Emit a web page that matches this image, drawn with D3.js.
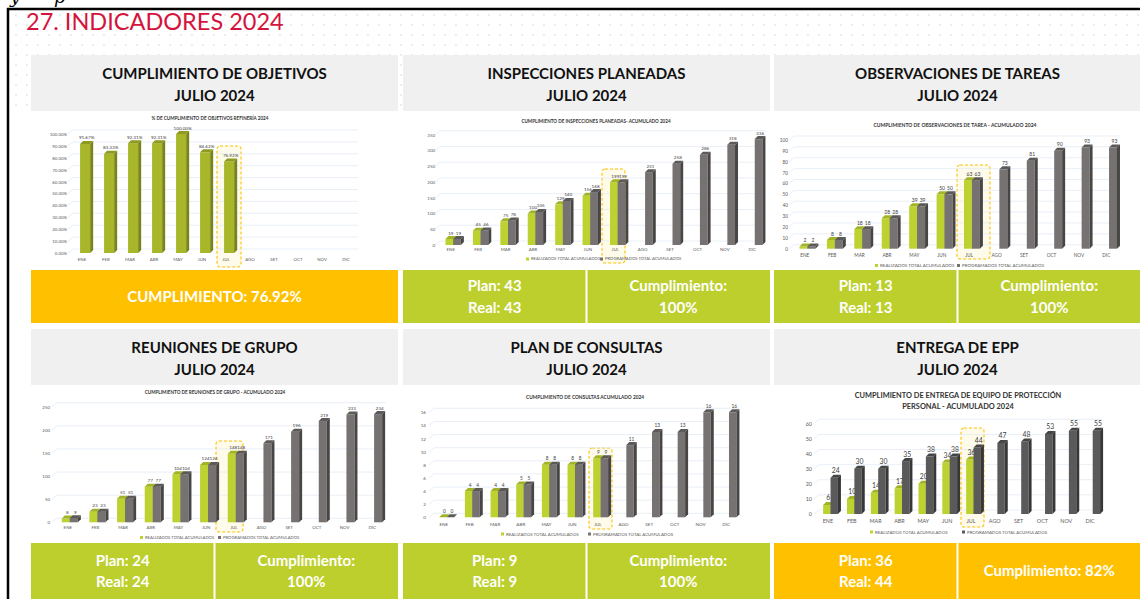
<!DOCTYPE html>
<html>
<head>
<meta charset="utf-8">
<script src="https://cdn.jsdelivr.net/npm/d3@7"></script>
<style>
  body { margin: 0; background: #fff; }
  svg { display: block; font-family: Lato, "Open Sans", sans-serif; }
</style>
</head>
<body>
<svg id="chart" width="1140" height="599"></svg>
<script>
var meses = ["ENE", "FEB", "MAR", "ABR", "MAY", "JUN", "JUL", "AGO", "SET", "OCT", "NOV", "DIC"];

var objetivosPct = [91.67, 83.33, 92.31, 92.31, 100.00, 84.62, 76.92];

var inspReal = [19, 45, 75, 100, 129, 156, 199];
var inspProg = [19, 46, 78, 105, 140, 168, 199, 231, 258, 286, 318, 336];

var obsReal = [2, 8, 18, 28, 39, 50, 63];
var obsProg = [2, 8, 18, 28, 39, 50, 63, 73, 81, 90, 93, 93];

var reuReal = [8, 23, 51, 77, 104, 124, 148];
var reuProg = [9, 23, 51, 77, 104, 124, 148, 171, 196, 219, 233, 234];

var consReal = [0, 4, 4, 5, 8, 8, 9];
var consProg = [0, 4, 4, 5, 8, 8, 9, 11, 13, 13, 16, 16];

var eppReal = [6, 10, 14, 17, 20, 34, 36];
var eppProg = [24, 30, 30, 35, 38, 38, 44, 47, 48, 53, 55, 55];

var titulos = [
  ["CUMPLIMIENTO DE OBJETIVOS", "JULIO 2024"],
  ["INSPECCIONES PLANEADAS", "JULIO 2024"],
  ["OBSERVACIONES DE TAREAS", "JULIO 2024"],
  ["REUNIONES DE GRUPO", "JULIO 2024"],
  ["PLAN DE CONSULTAS", "JULIO 2024"],
  ["ENTREGA DE EPP", "JULIO 2024"]
];
var subtitulos = [
  ["% DE CUMPLIMIENTO DE OBJETIVOS REFINERÍA 2024"],
  ["CUMPLIMIENTO DE INSPECCIONES PLANEADAS- ACUMULADO 2024"],
  ["CUMPLIMIENTO DE OBSERVACIONES DE TAREA - ACUMULADO 2024"],
  ["CUMPLIMIENTO DE REUNIONES DE GRUPO - ACUMULADO 2024"],
  ["CUMPLIMIENTO DE CONSULTAS ACUMULADO 2024"],
  ["CUMPLIMIENTO DE ENTREGA DE EQUIPO DE PROTECCIÓN", "PERSONAL - ACUMULADO 2024"]
];
var pieIzq = [["CUMPLIMIENTO: 76.92%"], ["Plan: 43", "Real: 43"], ["Plan: 13", "Real: 13"],
              ["Plan: 24", "Real: 24"], ["Plan: 9", "Real: 9"], ["Plan: 36", "Real: 44"]];
var pieDer = [null, ["Cumplimiento:", "100%"], ["Cumplimiento:", "100%"],
              ["Cumplimiento:", "100%"], ["Cumplimiento:", "100%"], ["Cumplimiento: 82%"]];
var pieEstado = ["amarillo", "verde", "verde", "verde", "verde", "amarillo"];
var leyenda = ["REALIZADOS TOTAL ACUMULADOS", "PROGRAMADOS TOTAL ACUMULADOS"];

var colores = { verde: "#bccf2d", amarillo: "#ffc000" };

var svg = d3.select("#chart");

// fondo punteado
var defs = svg.append("defs");
defs.append("pattern").attr("id", "puntos").attr("width", 11).attr("height", 10)
  .attr("patternUnits", "userSpaceOnUse")
  .append("circle").attr("cx", 5).attr("cy", 5).attr("r", 0.9).attr("fill", "#e4e4e4");
svg.append("rect").attr("x", 10).attr("y", 10).attr("width", 1130).attr("height", 100).attr("fill", "url(#puntos)");

// marco
svg.append("line").attr("x1", 7).attr("x2", 1140).attr("y1", 9).attr("y2", 9).attr("stroke", "#000").attr("stroke-width", 2.5);
svg.append("line").attr("x1", 8).attr("x2", 8).attr("y1", 8).attr("y2", 599).attr("stroke", "#000").attr("stroke-width", 2.5);
// restos de texto por encima del marco
svg.append("text").attr("x", 10).attr("y", 3).style("font-family", "DejaVu Serif").style("font-style", "italic")
  .style("font-size", "18px").text("y");
svg.append("text").attr("x", 54).attr("y", 3).style("font-family", "DejaVu Serif").style("font-style", "italic")
  .style("font-size", "18px").text("p");

svg.append("text").attr("x", 26).attr("y", 30).attr("fill", "#d4143c")
  .style("font-size", "23.5px").text("27. INDICADORES 2024");

// paneles
var colX = [31, 403, 774];
var filas = [{ top: 55, chart: 111, pie: 270, fin: 323 }, { top: 329, chart: 385, pie: 543, fin: 599 }];
var anchoPanel = 367;

titulos.forEach(function(t, i) {
  var px = colX[i % 3], f = filas[Math.floor(i / 3)];
  svg.append("rect").attr("x", px).attr("y", f.top).attr("width", anchoPanel).attr("height", f.chart - f.top).attr("fill", "#f0f0f0");
  t.forEach(function(linea, k) {
    svg.append("text").attr("x", px + anchoPanel / 2).attr("y", f.top + 24 + k * 22)
      .attr("text-anchor", "middle").style("font-weight", "bold").style("font-size", "15px").attr("fill", "#111")
      .text(linea);
  });

  var col = colores[pieEstado[i]];
  svg.append("rect").attr("x", px).attr("y", f.pie).attr("width", anchoPanel).attr("height", f.fin - f.pie).attr("fill", col);
  var mid = (f.pie + f.fin) / 2;
  var pieTexto = function(lineas, cx) {
    lineas.forEach(function(l, k) {
      var yy = mid + (k - (lineas.length - 1) / 2) * 21.5;
      svg.append("text").attr("x", cx).attr("y", yy).attr("dy", "0.36em").attr("text-anchor", "middle")
        .attr("fill", "#fff").style("font-weight", "bold").style("font-size", "15px").text(l);
    });
  };
  if (pieDer[i]) {
    svg.append("line").attr("x1", px + anchoPanel / 2).attr("x2", px + anchoPanel / 2)
      .attr("y1", f.pie).attr("y2", f.fin).attr("stroke", "#fff").attr("stroke-width", 2);
    pieTexto(pieIzq[i], px + anchoPanel / 4);
    pieTexto(pieDer[i], px + anchoPanel * 3 / 4);
  } else {
    pieTexto(pieIzq[i], px + anchoPanel / 2);
  }
});

// graficos 3D
var estilos = {
  oliva: { front: "#a8b62a", top: "#8e9a20", side: "#78831a" },
  verde: { front: "#bdd130", top: "#a2b426", side: "#87961c" },
  gris: { front: "#767272", top: "#5c5959", side: "#484545" },
  grisOsc: { front: "#5a5a5a", top: "#454545", side: "#373737" }
};

var graficos = [
  { series: [objetivosPct], estilos: ["oliva"], xr: [70, 358], y0: 253, yTop: 134, max: 100, paso: 10,
    fmt: function(d) { return d.toFixed(2) + "%"; }, lblX: 67, sub: [210, 118], subSize: 4.6, catY: 259,
    hl: [217, 241, 146, 267], ancho: 0.42, off: -0.08, fs: 4.4, vfs: 4.6 },
  { series: [inspReal, inspProg], estilos: ["verde", "gris"], xr: [437, 766], y0: 245, yTop: 134.7, max: 350, paso: 50,
    lblX: 435, sub: [596, 121], subSize: 4.6, catY: 249, ley: [259, 526, 600], lfs: 4.2,
    hl: [602, 625, 169, 263], ancho: 0.28, off: -0.19, fs: 4.4, vfs: 4.6 },
  { series: [obsReal, obsProg], estilos: ["verde", "gris"], xr: [791, 1120], y0: 248.7, yTop: 140, max: 100, paso: 10,
    lblX: 788, sub: [955, 125], subSize: 5, catY: 255, ley: [265.5, 875, 957], lfs: 4.5,
    hl: [957, 990, 165, 259], ancho: 0.29, off: -0.19, fs: 4.7, vfs: 5 },
  { series: [reuReal, reuProg], estilos: ["verde", "gris"], xr: [54, 386], y0: 522.3, yTop: 406.7, max: 250, paso: 50,
    lblX: 50, sub: [215, 392], subSize: 4.6, catY: 527.5, ley: [537.5, 140, 218], lfs: 4.2,
    hl: [216, 243, 441, 532], ancho: 0.29, off: -0.22, fs: 4.4, vfs: 4.6 },
  { series: [consReal, consProg], estilos: ["verde", "gris"], xr: [431, 739], y0: 517.3, yTop: 412.3, max: 16, paso: 2,
    lblX: 426, sub: [585, 397], subSize: 4.8, catY: 524, ley: [534, 501, 588], lfs: 4.4,
    hl: [589, 612, 448, 529], ancho: 0.29, off: -0.18, fs: 4.6, vfs: 4.8 },
  { series: [eppReal, eppProg], estilos: ["verde", "grisOsc"], xr: [816, 1102], y0: 514, yTop: 423.3, max: 60, paso: 10,
    lblX: 812, sub: [958, 395], subSize: 7.4, catY: 521, ley: [532, 870, 962], lfs: 4.4,
    hl: [961, 984, 428, 527], ancho: 0.31, off: -0.2, fs: 5.4, vfs: 6.8 }
];

var dx = 3, dy = 3;

graficos.forEach(function(c, gi) {
  var g = svg.append("g");
  var x = d3.scaleBand().domain(meses).range(c.xr).padding(0);
  var y = d3.scaleLinear().domain([0, c.max]).range([c.y0, c.yTop]);
  var ticks = d3.range(0, c.max + c.paso / 2, c.paso);

  // titulo del grafico
  subtitulos[gi].forEach(function(s, k) {
    g.append("text").attr("x", c.sub[0]).attr("y", c.sub[1] + k * c.subSize * 1.6).attr("dy", "0.35em")
      .attr("text-anchor", "middle").style("font-weight", "bold").style("font-size", c.subSize + "px")
      .attr("fill", "#333").text(s);
  });

  // resaltado JUL
  g.append("rect").attr("x", c.hl[0]).attr("y", c.hl[2]).attr("width", c.hl[1] - c.hl[0]).attr("height", c.hl[3] - c.hl[2])
    .attr("rx", 3).attr("fill", "#fffbea").attr("stroke", "#ffc000").attr("stroke-width", 1.1)
    .attr("stroke-dasharray", "3,2");

  // grilla
  g.selectAll(".grid").data(ticks).enter().append("path")
    .attr("d", function(t) {
      var yy = y(t);
      return "M" + (c.xr[0] - 2) + "," + yy + "L" + (c.xr[0] + 3) + "," + (yy - 4) + "L" + c.xr[1] + "," + (yy - 4);
    })
    .attr("fill", "none").attr("stroke", "#dfe8f3").attr("stroke-width", 0.7);

  // ejes
  var ay = g.append("g").attr("transform", "translate(" + c.lblX + ",0)")
    .call(d3.axisLeft(y).tickValues(ticks).tickSize(0).tickPadding(0).tickFormat(c.fmt || d3.format("d")));
  ay.select(".domain").remove();
  ay.selectAll("text").style("font-size", c.fs + "px").attr("fill", "#595959").style("font-family", "Lato, sans-serif");

  var ax = g.append("g").attr("transform", "translate(0," + c.catY + ")")
    .call(d3.axisBottom(x).tickSize(0).tickPadding(0));
  ax.select(".domain").remove();
  ax.selectAll("text").attr("dy", "0.35em").style("font-size", c.fs + "px").attr("fill", "#595959").style("font-family", "Lato, sans-serif");

  // barras
  var step = x.bandwidth();
  var w = step * c.ancho;
  c.series.forEach(function(serie, k) {
    var st = estilos[c.estilos[k]];
    var datos = serie.map(function(v, i) { return { mes: meses[i], v: v }; });
    var bar = g.selectAll(".s" + k).data(datos).enter().append("g");
    var fx = function(d) { return x(d.mes) + step / 2 + step * c.off + k * w; };
    bar.append("rect").attr("x", fx).attr("y", function(d) { return y(d.v); })
      .attr("width", w).attr("height", function(d) { return c.y0 - y(d.v); }).attr("fill", st.front);
    bar.append("polygon").attr("points", function(d) {
      var a = fx(d), t = y(d.v);
      return [[a, t], [a + w, t], [a + w + dx, t - dy], [a + dx, t - dy]].join(" ");
    }).attr("fill", st.top);
    bar.append("polygon").attr("points", function(d) {
      var a = fx(d) + w, t = y(d.v);
      return [[a, t], [a + dx, t - dy], [a + dx, c.y0 - dy], [a, c.y0]].join(" ");
    }).attr("fill", st.side);
    bar.append("text").attr("x", function(d) { return fx(d) + w / 2 + 1.5; })
      .attr("y", function(d) { return y(d.v) - dy - 1.5; })
      .attr("text-anchor", "middle").style("font-size", c.vfs + "px").attr("fill", "#404040")
      .text(function(d) { return c.fmt ? c.fmt(d.v) : d.v; });
  });

  // leyenda
  if (c.ley) {
    c.series.forEach(function(s, k) {
      var lx = c.ley[1 + k];
      g.append("rect").attr("x", lx).attr("y", c.ley[0] - 1.5).attr("width", 3).attr("height", 3)
        .attr("fill", estilos[c.estilos[k]].front);
      g.append("text").attr("x", lx + 5).attr("y", c.ley[0]).attr("dy", "0.35em")
        .style("font-size", c.lfs + "px").attr("fill", "#595959").text(leyenda[k]);
    });
  }
});
</script>
</body>
</html>
